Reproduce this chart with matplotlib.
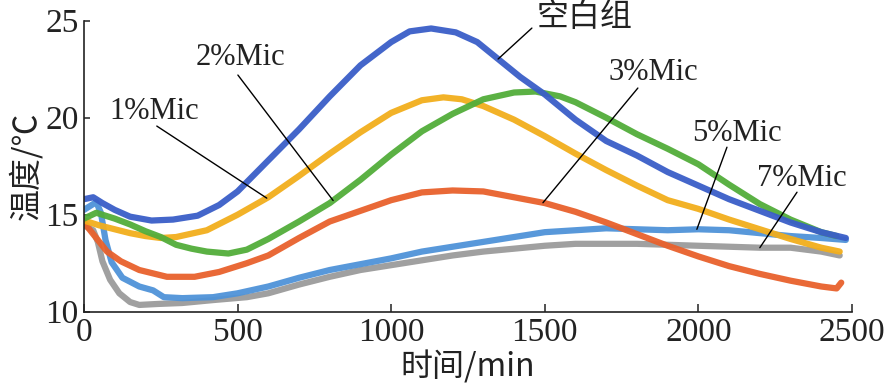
import matplotlib
matplotlib.use("Agg")
import matplotlib.pyplot as plt
import numpy as np

# series: time (min) and temperature (degC)
blank_x = [0, 30, 60, 100, 150, 220, 290, 370, 440, 500, 600, 700, 800, 900, 1000, 1060, 1130,
           1210, 1280, 1350, 1420, 1500, 1600, 1700, 1800, 1900, 2000, 2100, 2200, 2300, 2400, 2480]
blank_y = [15.8, 15.9, 15.6, 15.25, 14.9, 14.7, 14.75, 14.95, 15.5, 16.2, 17.8, 19.4, 21.1, 22.7, 23.9,
           24.45, 24.6, 24.4, 23.9, 23.0, 22.1, 21.2, 19.9, 18.8, 18.05, 17.2, 16.5, 15.8, 15.2, 14.6, 14.1, 13.8]

mic1_x = [0, 50, 100, 150, 200, 250, 300, 400, 500, 600, 700, 800, 900, 1000, 1100, 1170, 1230, 1300,
          1400, 1500, 1600, 1700, 1800, 1900, 2000, 2100, 2200, 2300, 2400, 2460]
mic1_y = [14.7, 14.45, 14.25, 14.05, 13.9, 13.8, 13.85, 14.2, 15.0, 15.9, 17.0, 18.15, 19.25, 20.25, 20.9,
          21.05, 20.95, 20.6, 19.9, 19.05, 18.15, 17.3, 16.5, 15.75, 15.3, 14.75, 14.25, 13.75, 13.3, 13.1]

mic2_x = [0, 40, 100, 150, 200, 250, 300, 350, 400, 470, 530, 600, 700, 800, 900, 1000, 1100, 1200,
          1300, 1400, 1470, 1550, 1600, 1700, 1800, 1900, 2000, 2100, 2200, 2300, 2400, 2450]
mic2_y = [14.8, 15.1, 14.8, 14.5, 14.15, 13.85, 13.45, 13.25, 13.1, 13.0, 13.2, 13.75, 14.65, 15.6, 16.8,
          18.1, 19.3, 20.2, 20.95, 21.3, 21.35, 21.1, 20.8, 20.0, 19.15, 18.4, 17.6, 16.55, 15.55, 14.75, 14.1, 13.9]

mic3_x = [0, 40, 75, 120, 180, 270, 360, 440, 530, 600, 700, 800, 900, 1000, 1100, 1200, 1300, 1400,
          1500, 1600, 1700, 1800, 1900, 2000, 2100, 2200, 2300, 2400, 2450, 2465]
mic3_y = [14.6, 13.8, 13.1, 12.6, 12.15, 11.8, 11.8, 12.05, 12.5, 12.9, 13.8, 14.65, 15.2, 15.75, 16.15,
          16.25, 16.2, 15.9, 15.6, 15.15, 14.6, 14.0, 13.4, 12.85, 12.35, 11.95, 11.6, 11.3, 11.2, 11.5]

mic5_x = [0, 20, 40, 55, 70, 90, 125, 180, 225, 260, 320, 420, 500, 600, 700, 800, 900, 1000, 1100,
          1200, 1300, 1400, 1500, 1600, 1700, 1800, 1900, 2000, 2100, 2200, 2300, 2400, 2480]
mic5_y = [15.25, 15.45, 15.65, 15.1, 13.7, 12.55, 11.75, 11.3, 11.1, 10.75, 10.7, 10.75, 10.95, 11.3,
          11.75, 12.15, 12.45, 12.75, 13.1, 13.35, 13.6, 13.85, 14.1, 14.2, 14.3, 14.25, 14.2, 14.25, 14.2,
          14.05, 13.9, 13.8, 13.7]

mic7_x = [0, 30, 45, 60, 85, 115, 150, 180, 240, 320, 420, 530, 600, 700, 800, 900, 1000, 1100, 1200,
          1300, 1400, 1500, 1600, 1700, 1800, 1900, 2000, 2100, 2200, 2300, 2400, 2460]
mic7_y = [14.45, 14.2, 13.6, 12.6, 11.65, 10.95, 10.5, 10.35, 10.4, 10.45, 10.6, 10.75, 10.95, 11.4, 11.8,
          12.15, 12.4, 12.65, 12.9, 13.1, 13.25, 13.4, 13.5, 13.5, 13.5, 13.45, 13.4, 13.35, 13.3, 13.3, 13.1, 12.9]

# drawing order (bottom first)
series = [
    ("7%Mic", mic7_x, mic7_y, "#9b9b9b"),
    ("5%Mic", mic5_x, mic5_y, "#4f93d8"),
    ("3%Mic", mic3_x, mic3_y, "#e8612c"),
    ("1%Mic", mic1_x, mic1_y, "#f2ae1c"),
    ("2%Mic", mic2_x, mic2_y, "#52ad3a"),
    ("空白组", blank_x, blank_y, "#3a5ec8"),
]

# callouts: name, text centre, leader start, x where leader meets the curve
callouts = [
    ("空白组", (1628, 25.19), (1458, 24.62), 1348),
    ("2%Mic", (508, 23.08), (501, 22.2), 811),
    ("1%Mic", (228, 20.3), (237, 19.57), 595),
    ("3%Mic", (1852, 22.35), (1803, 21.53), 1494),
    ("5%Mic", (2126, 19.2), (2093, 18.48), 1995),
    ("7%Mic", (2337, 16.85), (2321, 16.16), 2200),
]

xticks = [0, 500, 1000, 1500, 2000, 2500]
yticks = [10, 15, 20, 25]

serif = "Liberation Serif"
cjk = ["Noto Sans CJK SC", "DejaVu Sans"]

fig = plt.figure(figsize=(8.85, 3.88), dpi=100)
ax = fig.add_axes([0.0949, 0.1966, 0.8678, 0.75])

curves = {}
for name, xs, ys, color in series:
    ax.plot(xs, ys, color=color, lw=4.5, solid_capstyle="round", alpha=0.95)
    curves[name] = (xs, ys)

for name, (tx, ty), (sx, sy), ex in callouts:
    xs, ys = curves[name]
    ey = np.interp(ex, xs, ys)
    ax.annotate("", xy=(ex, ey), xytext=(sx, sy),
                arrowprops=dict(arrowstyle="-", color="black", lw=1.0, shrinkA=0, shrinkB=0))
    if name == "空白组":
        ax.text(tx, ty, name, family=cjk, fontsize=23, ha="center", va="center", color="#222222")
    else:
        ax.text(tx, ty, name, family=serif, fontsize=22, ha="center", va="center", color="#222222")

ax.set_xlim(0, 2500)
ax.set_ylim(10, 25)
ax.set_xticks(xticks)
ax.set_yticks(yticks)
for s in ["top", "right"]:
    ax.spines[s].set_visible(False)
for s in ["left", "bottom"]:
    ax.spines[s].set_linewidth(1.2)
    ax.spines[s].set_color("#222222")
ax.tick_params(axis="x", direction="in", length=6, width=1.1, pad=4, labelsize=24, colors="#222222")
ax.tick_params(axis="y", direction="in", length=4, width=1.1, pad=4, labelsize=24, colors="#222222")
for lab in ax.get_xticklabels() + ax.get_yticklabels():
    lab.set_family(serif)

ax.set_xlabel("时间/min", family=cjk, fontsize=23, labelpad=2, color="#222222")
ax.set_ylabel("温度/℃", family=cjk, fontsize=23, labelpad=2, color="#222222")

fig.savefig("out.png", dpi=100)
